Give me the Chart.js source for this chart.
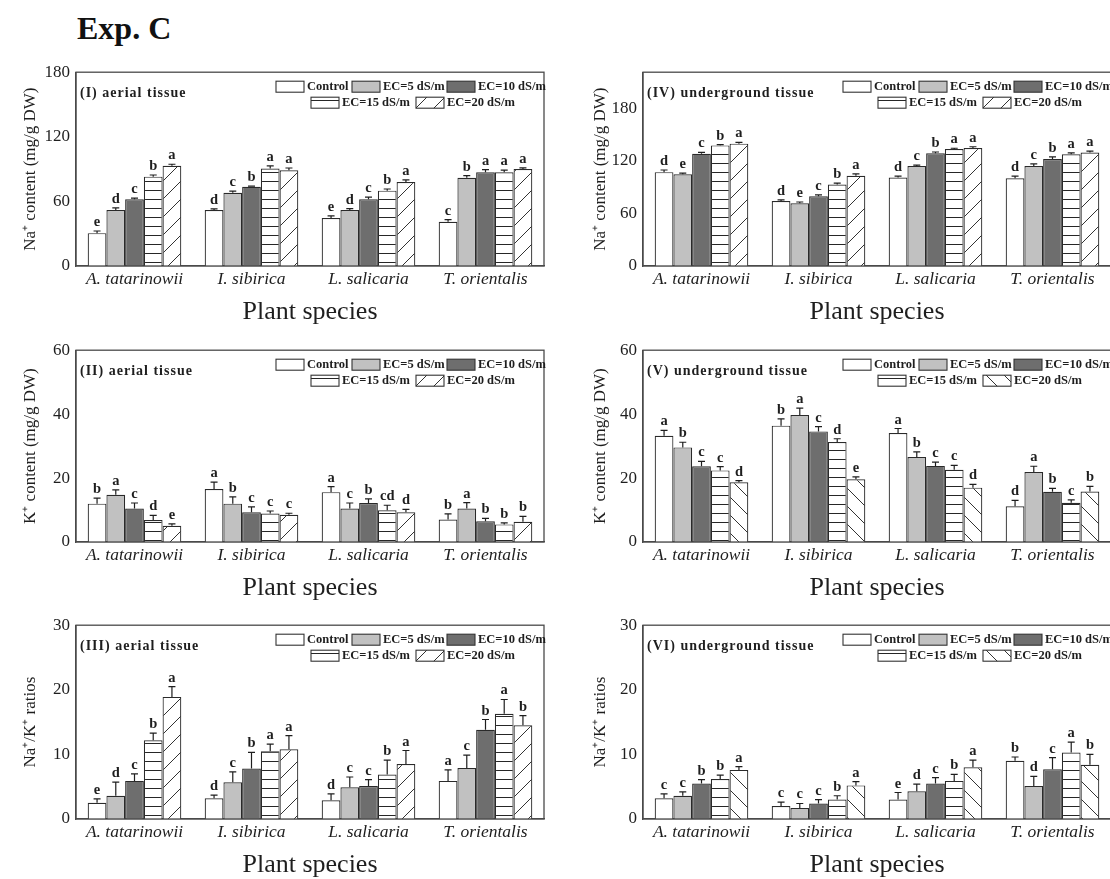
<!DOCTYPE html>
<html>
<head>
<meta charset="utf-8">
<script src="https://cdn.jsdelivr.net/npm/chart.js@4.4.1/dist/chart.umd.min.js"></script>
<style>
  html, body { margin: 0; padding: 0; background: #fff; }
  body { width: 1110px; height: 879px; overflow: hidden; position: relative; }
  canvas { position: absolute; }
  #title { position: absolute; left: 77px; top: 12px; font: bold 32px "Liberation Serif", "Times New Roman", serif; line-height: 32px; color: #111; }
</style>
</head>
<body>
<div id="title">Exp. C</div>
<canvas id="p1" width="554" height="280" style="left:0;top:56px"></canvas>
<canvas id="p4" width="554" height="280" style="left:567px;top:56px"></canvas>
<canvas id="p2" width="554" height="278" style="left:0;top:334px"></canvas>
<canvas id="p5" width="554" height="278" style="left:567px;top:334px"></canvas>
<canvas id="p3" width="554" height="280" style="left:0;top:609px"></canvas>
<canvas id="p6" width="554" height="280" style="left:567px;top:609px"></canvas>
<script>
const species = ['A. tatarinowii', 'I. sibirica', 'L. salicaria', 'T. orientalis'];
const treatments = ['Control', 'EC=5 dS/m', 'EC=10 dS/m', 'EC=15 dS/m', 'EC=20 dS/m'];

const naTicks = [0, 60, 120, 180];
const kTicks = [0, 20, 40, 60];
const ratioTicks = [0, 10, 20, 30];

// rows = treatments (Control, EC5, EC10, EC15, EC20), columns = species
// (I) Na+ aerial
const naAerial = [[30.5, 52, 44.5, 41], [52, 68, 52, 82], [62, 73.5, 62, 87], [83, 90.5, 70, 87], [93, 89, 78, 90]];
const naAerialErr = [[2, 1, 2, 2], [2, 1.5, 1.2, 2], [1, 0.7, 2, 2.5], [1.5, 2.5, 1.5, 2], [1.5, 2, 2, 1.2]];
const naAerialSig = [['e', 'd', 'e', 'c'], ['d', 'c', 'd', 'b'], ['c', 'b', 'c', 'a'], ['b', 'a', 'b', 'a'], ['a', 'a', 'a', 'a']];

// (IV) Na+ underground
const naUnder = [[107, 74, 101, 100], [104.5, 71.5, 114, 114], [128, 79.5, 128.5, 122], [137.5, 93, 133.5, 127.5], [139.5, 103, 134.5, 129.5]];
const naUnderErr = [[2.5, 1.5, 1.5, 2.5], [1.5, 1.5, 1, 2.5], [1.5, 1.5, 1.5, 2.5], [1, 1.5, 0.8, 1.5], [1.5, 2, 1.5, 1.5]];
const naUnderSig = [['d', 'd', 'd', 'd'], ['e', 'e', 'c', 'c'], ['c', 'c', 'b', 'b'], ['b', 'b', 'a', 'a'], ['a', 'a', 'a', 'a']];

// (II) K+ aerial
const kAerial = [[12.0, 16.6, 15.6, 7.0], [14.8, 12.0, 10.5, 10.5], [10.5, 9.3, 12.2, 6.5], [6.9, 8.9, 9.9, 5.5], [5.1, 8.5, 9.3, 6.3]];
const kAerialErr = [[1.7, 2.1, 1.7, 1.8], [1.5, 2.1, 1.7, 1.8], [1.7, 1.7, 1.3, 0.9], [1.4, 0.8, 1.6, 0.5], [0.6, 0.5, 0.9, 1.7]];
const kAerialSig = [['b', 'a', 'a', 'b'], ['a', 'b', 'c', 'a'], ['c', 'c', 'b', 'b'], ['d', 'c', 'cd', 'b'], ['e', 'c', 'd', 'b']];

// (V) K+ underground
const kUnder = [[33.2, 36.4, 34.1, 11.2], [29.6, 39.7, 26.6, 21.9], [23.7, 34.6, 23.8, 15.7], [22.4, 31.3, 22.6, 12.3], [18.7, 19.6, 17.0, 15.8]];
const kUnderErr = [[1.7, 2.1, 1.4, 1.8], [1.6, 2.2, 1.6, 1.8], [1.5, 1.5, 1.2, 1.1], [1.2, 1.0, 1.4, 0.9], [0.5, 0.8, 1.0, 1.6]];
const kUnderSig = [['a', 'b', 'a', 'd'], ['b', 'a', 'b', 'a'], ['c', 'c', 'c', 'b'], ['c', 'd', 'c', 'c'], ['d', 'e', 'd', 'b']];

// (III) Na+/K+ aerial
const ratioAerial = [[2.5, 3.2, 2.9, 5.9], [3.6, 5.7, 4.9, 7.9], [5.9, 7.8, 5.1, 13.8], [12.2, 10.5, 6.9, 16.3], [18.9, 10.8, 8.5, 14.5]];
const ratioAerialErr = [[0.6, 0.5, 1.0, 1.7], [2.1, 1.6, 1.6, 2.0], [1.1, 2.5, 1.0, 1.6], [1.1, 1.1, 2.2, 2.2], [1.6, 2.1, 2.1, 1.5]];
const ratioAerialSig = [['e', 'd', 'd', 'a'], ['d', 'c', 'c', 'c'], ['c', 'b', 'c', 'b'], ['b', 'a', 'b', 'a'], ['a', 'a', 'a', 'b']];

// (VI) Na+/K+ underground
const ratioUnder = [[3.2, 2.0, 3.0, 9.0], [3.6, 1.7, 4.3, 5.1], [5.5, 2.4, 5.5, 7.7], [6.2, 3.0, 5.9, 10.3], [7.6, 5.2, 8.0, 8.4]];
const ratioUnderErr = [[0.7, 0.6, 1.1, 0.6], [0.6, 0.7, 1.1, 1.5], [0.6, 0.6, 0.9, 1.8], [0.6, 0.6, 1.0, 1.6], [0.5, 0.6, 1.1, 1.6]];
const ratioUnderSig = [['c', 'c', 'e', 'b'], ['c', 'c', 'd', 'd'], ['b', 'c', 'c', 'c'], ['b', 'b', 'b', 'a'], ['a', 'a', 'a', 'b']];

const SERIF = '"Liberation Serif", "Times New Roman", serif';
const INK = '#1e1e1e';

function hLines(ctx) {
  const c = document.createElement('canvas');
  c.width = 8; c.height = 9;
  const g = c.getContext('2d');
  g.fillStyle = '#fff'; g.fillRect(0, 0, 8, 9);
  g.fillStyle = '#262626'; g.fillRect(0, 8, 8, 1);
  return ctx.createPattern(c, 'repeat');
}

function diagLines(ctx, dir) {
  const s = 18;
  const c = document.createElement('canvas');
  c.width = s; c.height = s;
  const g = c.getContext('2d');
  g.fillStyle = '#fff'; g.fillRect(0, 0, s, s);
  g.strokeStyle = '#333'; g.lineWidth = 1;
  g.beginPath();
  if (dir > 0) { g.moveTo(-1, s + 1); g.lineTo(s + 1, -1); }
  else { g.moveTo(-1, -1); g.lineTo(s + 1, s + 1); }
  g.stroke();
  return ctx.createPattern(c, 'repeat');
}

// frame on top / right of the plot
const framePlugin = {
  id: 'frame',
  afterDraw(chart) {
    const { ctx, chartArea: a } = chart;
    ctx.save();
    ctx.strokeStyle = '#4a4a4a';
    ctx.lineWidth = 1.3;
    ctx.strokeRect(a.left, a.top, a.right - a.left, a.bottom - a.top);
    ctx.restore();
  }
};

// one-sided error bars and significance letters
const errorPlugin = {
  id: 'errs',
  afterDatasetsDraw(chart) {
    const { ctx } = chart;
    const y = chart.scales.y;
    ctx.save();
    ctx.strokeStyle = INK;
    ctx.lineWidth = 1.2;
    ctx.fillStyle = INK;
    ctx.font = 'bold 14.5px ' + SERIF;
    ctx.textAlign = 'center';
    ctx.textBaseline = 'alphabetic';
    chart.data.datasets.forEach((ds, i) => {
      chart.getDatasetMeta(i).data.forEach((bar, j) => {
        const top = y.getPixelForValue(ds.data[j] + ds.errs[j]);
        ctx.beginPath();
        ctx.moveTo(bar.x, bar.y);
        ctx.lineTo(bar.x, top);
        ctx.moveTo(bar.x - 3.5, top);
        ctx.lineTo(bar.x + 3.5, top);
        ctx.stroke();
        ctx.fillText(ds.sig[j], bar.x, top - 5);
      });
    });
    ctx.restore();
  }
};

// legend boxes inside the plot, two rows, anchored to the right edge
const legendSlots = [[-268, 9], [-192, 9], [-97, 9], [-233, 25], [-128, 25]];
const legendPlugin = {
  id: 'boxLegend',
  afterDraw(chart) {
    const { ctx, chartArea: a } = chart;
    ctx.save();
    ctx.font = 'bold 12.5px ' + SERIF;
    ctx.textBaseline = 'middle';
    ctx.textAlign = 'left';
    chart.data.datasets.forEach((ds, i) => {
      const x = a.right + legendSlots[i][0];
      const yTop = a.top + legendSlots[i][1];
      ctx.fillStyle = ds.backgroundColor;
      ctx.fillRect(x, yTop, 28, 11);
      ctx.strokeStyle = '#333';
      ctx.lineWidth = 1.1;
      ctx.strokeRect(x, yTop, 28, 11);
      ctx.fillStyle = INK;
      ctx.fillText(ds.label, x + 31, yTop + 6);
    });
    ctx.restore();
  }
};

const tagPlugin = {
  id: 'tag',
  afterDraw(chart, args, opts) {
    const { ctx, chartArea: a } = chart;
    ctx.save();
    ctx.font = 'bold 14px ' + SERIF;
    ctx.letterSpacing = '1px';
    ctx.fillStyle = INK;
    ctx.textBaseline = 'alphabetic';
    ctx.fillText(opts.text, a.left + 4, a.top + 25);
    ctx.restore();
  }
};

function makePanel(id, values, errs, sig, ticks, yMax, yTitle, tag, hatchDir, titlePad) {
  const ctx = document.getElementById(id).getContext('2d');
  const fills = ['#ffffff', '#c1c1c1', '#6e6e6e', hLines(ctx), diagLines(ctx, hatchDir)];
  return new Chart(ctx, {
    type: 'bar',
    data: {
      labels: species,
      datasets: treatments.map((t, i) => ({
        label: t,
        data: values[i],
        errs: errs[i],
        sig: sig[i],
        backgroundColor: fills[i],
        borderColor: '#2a2a2a',
        borderWidth: 1.2,
        categoryPercentage: 0.8,
        barPercentage: 1.0
      }))
    },
    options: {
      responsive: false,
      animation: false,
      layout: { padding: { top: 10, right: 10, left: 0, bottom: 0 } },
      plugins: {
        legend: { display: false },
        tooltip: { enabled: false },
        tag: { text: tag }
      },
      scales: {
        x: {
          grid: { display: false, drawTicks: false },
          border: { color: '#4a4a4a', width: 1.3 },
          ticks: { font: { family: SERIF, size: 17.5, style: 'italic' }, color: INK, padding: 3, maxRotation: 0, autoSkip: false },
          title: { display: true, text: 'Plant species', font: { family: SERIF, size: 26 }, color: INK, padding: { top: 0, bottom: 8 } },
          afterFit: s => { s.height = 70; }
        },
        y: {
          min: 0,
          max: yMax,
          grid: { display: false, drawTicks: false },
          border: { color: '#4a4a4a', width: 1.3 },
          ticks: { font: { family: SERIF, size: 17 }, color: INK, padding: 6 },
          afterBuildTicks: s => { s.ticks = ticks.map(v => ({ value: v })); },
          title: { display: true, text: yTitle, font: { family: SERIF, size: 17 }, color: INK, padding: { top: titlePad, bottom: 0 } },
          afterFit: s => { s.width = 76; }
        }
      }
    },
    plugins: [framePlugin, errorPlugin, legendPlugin, tagPlugin]
  });
}

makePanel('p1', naAerial, naAerialErr, naAerialSig, naTicks, 180, 'Na\u207A content (mg/g DW)', '(I) aerial tissue', 1, 20);
makePanel('p4', naUnder, naUnderErr, naUnderSig, naTicks, 221, 'Na\u207A content (mg/g DW)', '(IV) underground tissue', 1, 23);
makePanel('p2', kAerial, kAerialErr, kAerialSig, kTicks, 60, 'K\u207A content (mg/g DW)', '(II) aerial tissue', 1, 20);
makePanel('p5', kUnder, kUnderErr, kUnderSig, kTicks, 60, 'K\u207A content (mg/g DW)', '(V) underground tissue', -1, 23);
makePanel('p3', ratioAerial, ratioAerialErr, ratioAerialSig, ratioTicks, 30, 'Na\u207A/K\u207A ratios', '(III) aerial tissue', 1, 20);
makePanel('p6', ratioUnder, ratioUnderErr, ratioUnderSig, ratioTicks, 30, 'Na\u207A/K\u207A ratios', '(VI) underground tissue', -1, 23);
</script>
</body>
</html>
